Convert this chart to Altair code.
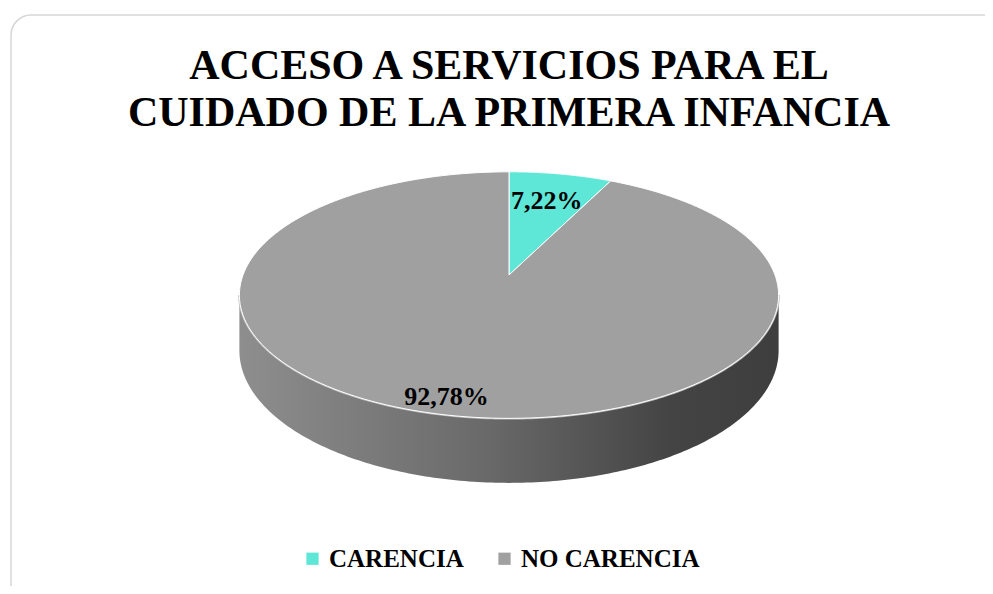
import altair as alt
import pandas as pd

# ---- data ----
categorias = ["CARENCIA", "NO CARENCIA"]
valores = [7.22, 92.78]
colores = ["#5EE6D6", "#A0A0A0"]
titulo = ["ACCESO A SERVICIOS PARA EL", "CUIDADO DE LA PRIMERA INFANCIA"]

df = pd.DataFrame({"categoria": categorias, "valor": valores,
                   "orden": list(range(len(categorias)))})
df_titulo = pd.DataFrame({"linea": titulo, "n": list(range(len(titulo)))})

# ---- layout constants (plot-area pixels) ----
W, H = 977, 438
CX, CY = 501, 127        # pie centre
A, B = 266, 120          # radii of the top face
P = 0.163                # perspective factor
TH = 54                  # thickness of the pie
N = 200
SERIF = "Liberation Serif"

xs = alt.Scale(domain=[0, W], nice=False, zero=False)
ys = alt.Scale(domain=[0, H], nice=False, zero=False, reverse=True)
color_scale = alt.Scale(domain=categorias, range=colores)

base = alt.Chart(df).transform_joinaggregate(
    total="sum(valor)"
).transform_window(
    cum="sum(valor)", frame=[None, 0], sort=[alt.SortField("orden")]
).transform_calculate(
    t0="2*PI*(datum.cum-datum.valor)/datum.total",
    t1="2*PI*datum.cum/datum.total",
)

def proj(chart, r_expr="1"):
    return chart.transform_calculate(
        X=f"({r_expr})*sin(datum.phi)",
        Z=f"({r_expr})*cos(datum.phi)",
    ).transform_calculate(
        px=f"{CX} + {A}*datum.X/(1+{P}*datum.Z)",
        py=f"{CY} - {B}*datum.Z/(1+{P}*datum.Z)",
        pyb=f"{CY} - {B}*datum.Z/(1+{P}*datum.Z) + {TH}/(1+{P}*datum.Z)",
    )

# rounded frame of the chart
frame = alt.Chart(pd.DataFrame({"f": [0]})).mark_rect(
    fill="white", stroke="#D6D6D6", strokeWidth=1.5, cornerRadius=20
).encode(
    x=alt.value(3), x2=alt.value(1010),
    y=alt.value(-133), y2=alt.value(470),
)

# title (two lines)
title_layer = alt.Chart(df_titulo).transform_calculate(
    ty="-69 + datum.n*47"
).mark_text(
    font=SERIF, fontSize=42, fontWeight="bold", color="black",
    align="center", baseline="alphabetic",
).encode(
    x=alt.value(CX),
    y=alt.Y("ty:Q", scale=ys, axis=None),
    text="linea:N",
)

# side of the cylinder (front half only)
side_data = base.transform_calculate(
    s0=f"max(datum.t0, acos(-{P}))",
    s1=f"min(datum.t1, 2*PI - acos(-{P}))",
).transform_filter("datum.s1 > datum.s0").transform_calculate(
    i=f"sequence(0, {N + 1})"
).transform_flatten(["i"]).transform_calculate(
    phi=f"datum.s0 + (datum.s1-datum.s0)*datum.i/{N}"
)
side_data = proj(side_data)

gradient = alt.LinearGradient(
    gradient="linear",
    stops=[alt.GradientStop(color="#8E8E8E", offset=0),
           alt.GradientStop(color="#6A6A6A", offset=0.45),
           alt.GradientStop(color="#444444", offset=0.8),
           alt.GradientStop(color="#3E3E3E", offset=1)],
    x1=0, x2=1, y1=0, y2=0,
)

side = side_data.mark_area(color=gradient).encode(
    x=alt.X("px:Q", scale=xs, axis=None),
    y=alt.Y("py:Q", scale=ys, axis=None),
    y2="pyb:Q",
    detail="categoria:N",
)

rim = side_data.mark_line(stroke="#C4C4C4", strokeWidth=2.5, opacity=0.9).encode(
    x=alt.X("px:Q", scale=xs, axis=None),
    y=alt.Y("py:Q", scale=ys, axis=None),
    detail="categoria:N",
)

# top face slices
top_data = base.transform_calculate(
    i=f"sequence(0, {N + 2})"
).transform_flatten(["i"]).transform_calculate(
    phi=f"datum.t0 + (datum.t1-datum.t0)*max(datum.i-1, 0)/{N}",
    r="datum.i == 0 ? 0 : 1",
)
top_data = proj(top_data, "datum.r")

top = top_data.mark_line(
    interpolate="linear-closed", stroke="white", strokeWidth=1.0, strokeJoin="round"
).encode(
    x=alt.X("px:Q", scale=xs, axis=None),
    y=alt.Y("py:Q", scale=ys, axis=None),
    fill=alt.Fill("categoria:N", scale=color_scale, sort=categorias,
                  legend=alt.Legend(
                      title=None, orient="none", legendX=292, legendY=398,
                      direction="horizontal", symbolType="square", symbolSize=150,
                      symbolStrokeWidth=0, labelFont=SERIF, labelLimit=400,
                      labelFontSize=25, labelFontWeight="bold", labelColor="black",
                      columnPadding=28, labelOffset=4)),
    order="i:Q",
    detail="categoria:N",
)

# labels
labels = proj(
    base.transform_calculate(phi="(datum.t0+datum.t1)/2"),
    "0.8 - 0.1*cos(datum.phi)",
).transform_calculate(
    etiqueta="replace(format(datum.valor, '.2f'), '.', ',') + '%'"
).mark_text(
    font=SERIF, fontSize=26, fontWeight="bold", color="black",
    align="center", baseline="middle",
).encode(
    x=alt.X("px:Q", scale=xs, axis=None),
    y=alt.Y("py:Q", scale=ys, axis=None),
    text="etiqueta:N",
)

chart = alt.layer(frame, title_layer, side, rim, top, labels).properties(
    width=W, height=H,
    padding={"top": 140, "left": 0, "right": 0, "bottom": 0},
    autosize=alt.AutoSizeParams(type="none"),
    background="white",
).configure_view(stroke=None)

chart.save("out.html", embed_options={"renderer": "svg", "actions": False})
